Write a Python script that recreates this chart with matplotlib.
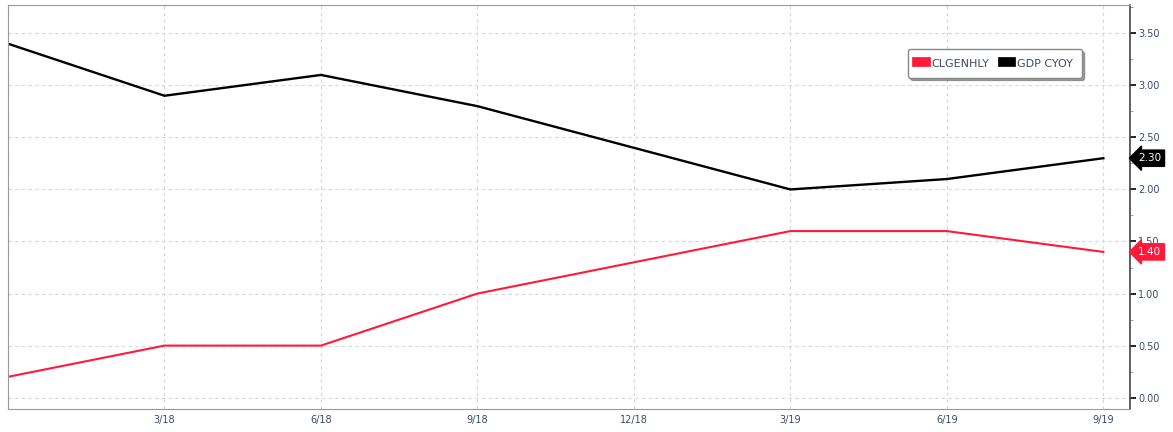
import matplotlib
matplotlib.use("Agg")
import matplotlib.pyplot as plt
from matplotlib.ticker import MultipleLocator

# quarterly observations
quarters = ["", "3/18", "6/18", "9/18", "12/18", "3/19", "6/19", "9/19"]
clgenhly = [0.2, 0.5, 0.5, 1.0, 1.3, 1.6, 1.6, 1.4]
gdp_cyoy = [3.4, 2.9, 3.1, 2.8, 2.4, 2.0, 2.1, 2.3]
y_ticks = [0.0, 0.5, 1.0, 1.5, 2.0, 2.5, 3.0, 3.5]

red = "#ff1a3c"
label_col = "#3a4a6a"

fig = plt.figure(figsize=(11.73, 4.32), dpi=100)
ax = fig.add_axes([0.0068, 0.053, 0.9565, 0.935])

x = range(len(quarters))
ax.plot(x, clgenhly, color=red, lw=1.5, label="CLGENHLY")
ax.plot(x, gdp_cyoy, color="black", lw=1.7, label="GDP CYOY")

ax.set_xlim(0, 7.17)
ax.set_ylim(-0.11, 3.77)
ax.set_xticks(list(x))
ax.set_xticklabels(quarters, fontsize=7, color=label_col)
ax.yaxis.tick_right()
ax.set_yticks(y_ticks)
ax.set_yticklabels(["%.2f" % v for v in y_ticks], fontsize=7, color=label_col)
ax.yaxis.set_minor_locator(MultipleLocator(0.25))
ax.tick_params(axis="y", which="major", length=4, width=1.2, color="black", pad=2)
ax.tick_params(axis="y", which="minor", length=2, color="#888888")
ax.tick_params(axis="x", length=0, pad=4)

ax.grid(True, ls=(0, (3, 3)), color="#d4d8de", lw=0.8)
for side in ["top", "left", "bottom"]:
    ax.spines[side].set_color("#999999")
ax.spines["right"].set_color("#444444")
ax.spines["right"].set_linewidth(1.2)

# last-value tags on the right axis
for vals, bg in [(gdp_cyoy, "black"), (clgenhly, red)]:
    ax.annotate("%.2f" % vals[-1], xy=(1.0, vals[-1]), xycoords=("axes fraction", "data"),
                xytext=(6, 0), textcoords="offset points", va="center", ha="left",
                fontsize=7.5, color="white",
                bbox=dict(boxstyle="larrow,pad=0.3", fc=bg, ec=bg))

leg = ax.legend(loc="upper right", bbox_to_anchor=(0.962, 0.905), ncol=2, fontsize=8,
                frameon=True, fancybox=True, shadow=True, handlelength=0.8,
                handleheight=1.0, columnspacing=1.2, borderpad=0.8, handletextpad=0.5)
for h in leg.legend_handles:
    h.set_linewidth(7)
for t in leg.get_texts():
    t.set_color(label_col)
leg.get_frame().set_edgecolor("#888888")

fig.savefig("out.png", dpi=100)
